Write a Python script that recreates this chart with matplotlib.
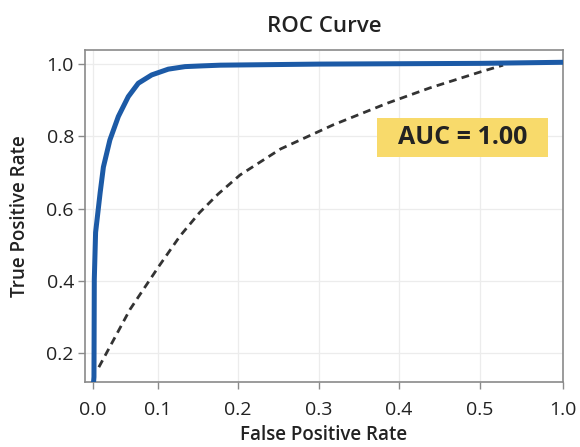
import numpy as np
import matplotlib
matplotlib.use("Agg")
import matplotlib.pyplot as plt
from matplotlib.patches import Rectangle

# ---- data ----
roc_fpr = [0.0, 0.0015, 0.002, 0.004, 0.011, 0.016, 0.026, 0.039, 0.0543, 0.0697,
           0.0903, 0.1129, 0.1338, 0.1546, 0.178, 0.30, 0.50, 1.0]
roc_tpr = [0.10, 0.134, 0.404, 0.534, 0.644, 0.715, 0.790, 0.855, 0.910, 0.947,
           0.970, 0.986, 0.993, 0.995, 0.997, 1.0, 1.002, 1.005]
ref_fpr = [0.009, 0.057, 0.101, 0.1275, 0.152, 0.175, 0.2025, 0.2525, 0.318,
           0.3857, 0.438, 0.50, 0.639]
ref_tpr = [0.161, 0.321, 0.440, 0.524, 0.589, 0.640, 0.693, 0.765, 0.832,
           0.892, 0.934, 0.978, 0.997]
x_ticks = [0.0, 0.1, 0.2, 0.3, 0.4, 0.5, 1.0]
x_tick_labels = ["0.0", "0.1", "0.2", "0.3", "0.4", "0.5", "1.0"]
y_ticks = [0.2, 0.4, 0.6, 0.8, 1.0]
y_tick_labels = ["0.2", "0.4", "0.6", "0.8", "1.0"]
auc_text = "AUC = 1.00"

# piecewise-linear x scale (uneven tick spacing of the original axis)
seg_pos = np.array([0.0, 65.0, 145.0, 226.0, 306.0, 387.0, 470.0])
seg_val = np.array(x_ticks)

def fwd(x):
    x = np.asarray(x, dtype=float)
    out = np.interp(x, seg_val, seg_pos)
    out = np.where(x < 0, x * 650.0, out)
    out = np.where(x > 1.0, 470.0 + (x - 1.0) * 166.0, out)
    return out

def inv(u):
    u = np.asarray(u, dtype=float)
    out = np.interp(u, seg_pos, seg_val)
    out = np.where(u < 0, u / 650.0, out)
    out = np.where(u > 470.0, 1.0 + (u - 470.0) / 166.0, out)
    return out

plt.rcParams['font.family'] = ['Open Sans', 'DejaVu Sans']

fig = plt.figure(figsize=(5.8, 4.47), dpi=100)
ax = fig.add_axes([85/580, 1-382/447, (563-85)/580, (382-50)/447])
ax.set_xscale('function', functions=(fwd, inv))

ax.plot(ref_fpr, ref_tpr, color='#333333', lw=2.0, ls=(0, (2.8, 1.9)), zorder=3)
ax.plot(roc_fpr, roc_tpr, color='#1c5aa6', lw=3.6, solid_capstyle='round',
        solid_joinstyle='round', zorder=4)

ax.set_xlim(-0.0123, 1.0)
ax.set_ylim(0.12, 1.039)
ax.set_xticks(x_ticks)
ax.set_xticklabels(x_tick_labels)
ax.set_yticks(y_ticks)
ax.set_yticklabels(y_tick_labels)
ax.minorticks_off()

ax.grid(True, color='#ececec', lw=0.9)
ax.set_axisbelow(True)
for s in ax.spines.values():
    s.set_color('#8a8a8a')
    s.set_linewidth(1.2)
ax.tick_params(axis='both', colors='#8a8a8a', length=5, width=1.0,
               labelcolor='#222222', labelsize=14)
ax.tick_params(axis='x', pad=8.5)
ax.tick_params(axis='y', pad=3)

ax.set_xlabel("False Positive Rate", fontsize=13.5, fontweight='semibold',
              color='#222222', labelpad=4.5)
ax.set_ylabel("True Positive Rate", fontsize=13.5, fontweight='semibold',
              color='#222222', labelpad=12)
ax.set_title("ROC Curve", fontsize=16, fontweight='semibold', color='#222222', pad=13)

ax.add_patch(Rectangle((0.611, 0.6777), 0.3576, 0.1175, transform=ax.transAxes,
                       fc='#f8da6b', ec='none', zorder=5))
ax.text(0.790, 0.7364, auc_text, transform=ax.transAxes, ha='center', va='center',
        fontsize=18, fontweight='bold', color='#222222', zorder=6)

fig.savefig("out.png", dpi=100)
